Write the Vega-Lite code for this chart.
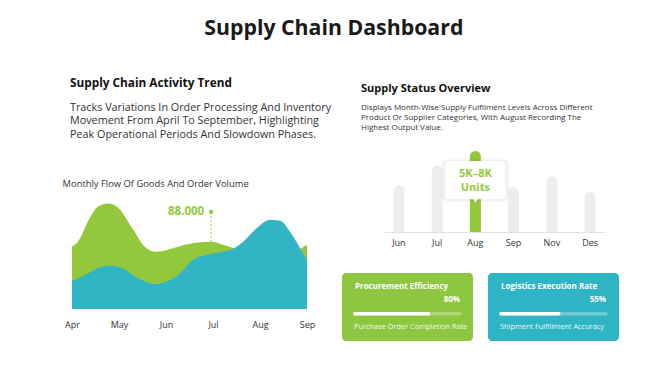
{
  "$schema": "https://vega.github.io/schema/vega-lite/v6.json",
  "background": "white",
  "autosize": {"type": "pad"},
  "padding": {"left": 62, "top": 17, "right": 5, "bottom": 5},
  "title": {"text": "Supply Chain Dashboard", "fontSize": 21.3, "fontWeight": "bold", "color": "#1a1a1a", "anchor": "middle", "offset": 39.5, "dx": -7},
  "spacing": 270,
  "bounds": "flush",
  "hconcat": [
    {
      "spacing": 47,
      "bounds": "flush",
      "vconcat": [
        {
          "width": 235,
          "height": 1,
          "data": {"values": [{"blank": ""}]},
          "mark": {"type": "text", "text": ""},
          "encoding": {},
          "title": {
            "text": "Supply Chain Activity Trend",
            "subtitle": ["Tracks Variations In Order Processing And Inventory", "Movement From April To September, Highlighting", "Peak Operational Periods And Slowdown Phases."],
            "anchor": "start", "dx": -2, "fontSize": 11.8, "fontWeight": "bold", "color": "#111111",
            "subtitleFontSize": 10.8, "subtitleColor": "#333333", "subtitleLineHeight": 13.3, "subtitlePadding": 12, "offset": 6
          }
        },
        {
          "width": 235,
          "height": 110,
          "title": {"text": "Monthly Flow Of Goods And Order Volume", "anchor": "start", "dx": -2, "fontSize": 9.4, "fontWeight": "normal", "color": "#333333", "offset": 10},
          "data": {"values": [
            {"series": "Goods", "m": 0, "v": 81.8},
            {"series": "Goods", "m": 0.13, "v": 88.4},
            {"series": "Goods", "m": 0.38, "v": 119.5},
            {"series": "Goods", "m": 0.55, "v": 134},
            {"series": "Goods", "m": 0.77, "v": 138},
            {"series": "Goods", "m": 0.98, "v": 132.6},
            {"series": "Goods", "m": 1.28, "v": 106},
            {"series": "Goods", "m": 1.55, "v": 81.4},
            {"series": "Goods", "m": 1.77, "v": 74.8},
            {"series": "Goods", "m": 2.04, "v": 77.5},
            {"series": "Goods", "m": 2.4, "v": 84},
            {"series": "Goods", "m": 2.96, "v": 88},
            {"series": "Goods", "m": 3.21, "v": 84},
            {"series": "Goods", "m": 3.43, "v": 80},
            {"series": "Goods", "m": 3.79, "v": 72},
            {"series": "Goods", "m": 4.21, "v": 70},
            {"series": "Goods", "m": 4.64, "v": 73.5},
            {"series": "Goods", "m": 4.89, "v": 80},
            {"series": "Goods", "m": 5, "v": 84},
            {"series": "Orders", "m": 0, "v": 36.8},
            {"series": "Orders", "m": 0.28, "v": 44.6},
            {"series": "Orders", "m": 0.55, "v": 53.8},
            {"series": "Orders", "m": 0.81, "v": 56.5},
            {"series": "Orders", "m": 1.06, "v": 53.8},
            {"series": "Orders", "m": 1.4, "v": 40.7},
            {"series": "Orders", "m": 1.77, "v": 32.8},
            {"series": "Orders", "m": 1.98, "v": 35.5},
            {"series": "Orders", "m": 2.26, "v": 44.6},
            {"series": "Orders", "m": 2.57, "v": 64.3},
            {"series": "Orders", "m": 2.87, "v": 70.9},
            {"series": "Orders", "m": 3.21, "v": 74.8},
            {"series": "Orders", "m": 3.43, "v": 78.8},
            {"series": "Orders", "m": 3.64, "v": 88},
            {"series": "Orders", "m": 3.94, "v": 106.4},
            {"series": "Orders", "m": 4.21, "v": 116.9},
            {"series": "Orders", "m": 4.43, "v": 115.6},
            {"series": "Orders", "m": 4.64, "v": 101},
            {"series": "Orders", "m": 4.85, "v": 80},
            {"series": "Orders", "m": 5, "v": 64.3}
          ]},
          "encoding": {
            "x": {"field": "m", "type": "quantitative",
                  "scale": {"domain": [0, 5], "nice": false, "zero": false},
                  "axis": {"values": [0, 1, 2, 3, 4, 5], "labelExpr": "['Apr','May','Jun','Jul','Aug','Sep'][datum.value]", "domain": false, "ticks": false, "grid": false, "labelPadding": 11, "labelFontSize": 9, "labelColor": "#333333", "title": null, "labelFlush": false}},
            "y": {"field": "v", "type": "quantitative", "scale": {"domain": [0, 144], "nice": false}, "axis": null}
          },
          "layer": [
            {"transform": [{"filter": "datum.series === 'Goods'"}], "mark": {"type": "area", "interpolate": "monotone", "color": "#93C83D", "opacity": 1}},
            {"transform": [{"filter": "datum.series === 'Orders'"}], "mark": {"type": "area", "interpolate": "monotone", "color": "#31B4C4", "opacity": 1}},
            {
              "data": {"values": [{"m": 2.96, "v": 88, "top": 127, "label": "88.000"}]},
              "layer": [
                {"mark": {"type": "rule", "color": "#93C83D", "strokeDash": [2, 2], "strokeWidth": 1}, "encoding": {"y2": {"field": "top"}}},
                {"mark": {"type": "point", "filled": true, "color": "#93C83D", "size": 18, "opacity": 1}, "encoding": {"y": {"field": "top", "type": "quantitative", "axis": null}}},
                {"mark": {"type": "text", "align": "right", "dx": -7, "fontSize": 11.5, "fontWeight": "bold", "color": "#93C83D"}, "encoding": {"y": {"field": "top", "type": "quantitative", "axis": null}, "text": {"field": "label"}}}
              ]
            }
          ]
        }
      ]
    },
    {
      "spacing": 122,
      "bounds": "flush",
      "vconcat": [
        {
          "spacing": 0,
          "bounds": "flush",
          "hconcat": [
            {"width": 42, "height": 81, "data": {"values": [{"gap": ""}]}, "mark": {"type": "text", "text": ""}, "encoding": {}},
            {
              "width": 221,
              "height": 81,
              "title": {
                "text": "Supply Status Overview",
                "subtitle": ["Displays Month-Wise Supply Fulfilment Levels Across Different", "Product Or Supplier Categories, With August Recording The", "Highest Output Value."],
                "anchor": "start", "dx": -23, "fontSize": 11, "fontWeight": "bold", "color": "#111111",
                "subtitleFontSize": 8, "subtitleColor": "#333333", "subtitleLineHeight": 10, "subtitlePadding": 10.3, "offset": 18.7
              },
              "data": {"values": [
                {"month": "Jun", "units": 6200},
                {"month": "Jul", "units": 8400},
                {"month": "Aug", "units": 10000},
                {"month": "Sep", "units": 6000},
                {"month": "Nov", "units": 7200},
                {"month": "Des", "units": 5450}
              ]},
              "encoding": {
                "x": {"field": "month", "type": "nominal", "sort": ["Jun", "Jul", "Aug", "Sep", "Nov", "Des"],
                      "scale": {"type": "band", "paddingInner": 0.5, "paddingOuter": 0.14},
                      "axis": {"title": null, "labelAngle": 0, "ticks": false, "domainColor": "#E3E3E3", "labelPadding": 6, "labelFontSize": 9, "labelColor": "#333333", "grid": false}},
                "y": {"field": "units", "type": "quantitative",
                      "scale": {"domain": [1000, 10000], "nice": false, "zero": false},
                      "axis": {"title": null, "values": [1000, 5000, 10000], "labelExpr": "datum.value / 1000 + 'k'", "ticks": false, "domain": false, "grid": false, "labelPadding": 11, "labelFontSize": 9, "labelColor": "#333333"}}
              },
              "layer": [
                {"mark": {"type": "bar", "width": 11, "cornerRadiusTopLeft": 5.5, "cornerRadiusTopRight": 5.5},
                 "encoding": {"y2": {"datum": 1000},
                   "color": {"field": "month", "type": "nominal", "legend": null,
                   "scale": {"domain": ["Jun", "Jul", "Aug", "Sep", "Nov", "Des"], "range": ["#EDEDED", "#EDEDED", "#93C83D", "#EDEDED", "#EDEDED", "#EDEDED"]}}}},
                {"transform": [{"filter": "datum.month === 'Aug'"}],
                 "mark": {"type": "bar", "width": 68, "cornerRadius": 5, "color": "#000000", "opacity": 0.03},
                 "encoding": {"y": {"datum": 9150, "type": "quantitative", "axis": null}, "y2": {"datum": 4350}}},
                {"transform": [{"filter": "datum.month === 'Aug'"}],
                 "mark": {"type": "bar", "width": 64, "cornerRadius": 4, "color": "#000000", "opacity": 0.03},
                 "encoding": {"y": {"datum": 9000, "type": "quantitative", "axis": null}, "y2": {"datum": 4500}}},
                {"transform": [{"filter": "datum.month === 'Aug'"}],
                 "mark": {"type": "bar", "width": 60, "cornerRadius": 3, "color": "#FFFFFF", "opacity": 1},
                 "encoding": {"y": {"datum": 8900, "type": "quantitative", "axis": null}, "y2": {"datum": 4650}}},
                {"transform": [{"filter": "datum.month === 'Aug'"}],
                 "mark": {"type": "point", "shape": "triangle-down", "filled": true, "size": 40, "color": "#FFFFFF", "opacity": 1},
                 "encoding": {"y": {"datum": 4550, "type": "quantitative", "axis": null}}},
                {"transform": [{"filter": "datum.month === 'Aug'"}],
                 "mark": {"type": "text", "text": "5K\u20138K", "fontSize": 11, "fontWeight": "bold", "color": "#93C83D"},
                 "encoding": {"y": {"datum": 7440, "type": "quantitative", "axis": null}}},
                {"transform": [{"filter": "datum.month === 'Aug'"}],
                 "mark": {"type": "text", "text": "Units", "fontSize": 11, "fontWeight": "bold", "color": "#93C83D"},
                 "encoding": {"y": {"datum": 5880, "type": "quantitative", "axis": null}}}
              ]
            }
          ]
        },
        {
          "spacing": 15,
          "bounds": "flush",
          "hconcat": [
            {
              "width": 131, "height": 68,
              "data": {"values": [{"name": "Procurement Efficiency", "rate": "80%", "progress": 70, "note": "Purchase Order Completion Rate"}]},
              "layer": [
                {"mark": {"type": "rect", "cornerRadius": 4, "color": "#8DC63F", "opacity": 1},
                 "encoding": {"x": {"datum": -12.38, "type": "quantitative", "axis": null}, "x2": {"datum": 112.38}}},
                {"mark": {"type": "rule", "strokeWidth": 3.5, "strokeCap": "round", "color": "#FFFFFF", "opacity": 0.3},
                 "encoding": {"x": {"datum": 0, "type": "quantitative", "axis": null}, "x2": {"datum": 100}, "y": {"datum": "bar", "type": "nominal", "axis": null}}},
                {"mark": {"type": "rule", "strokeWidth": 3.5, "strokeCap": "round", "color": "#FFFFFF", "opacity": 1},
                 "encoding": {"x": {"field": "progress", "type": "quantitative", "scale": {"domain": [-12.38, 112.38], "nice": false, "zero": false}, "axis": null}, "x2": {"datum": 0}, "y": {"datum": "bar", "type": "nominal", "axis": null}}},
                {"transform": [{"fold": ["name"], "as": ["item", "label"]}],
                 "mark": {"type": "text", "align": "left", "fontSize": 8, "fontWeight": "bold", "color": "#FFFFFF"},
                 "encoding": {"x": {"datum": 0, "type": "quantitative", "axis": null},
                              "y": {"field": "item", "type": "nominal", "scale": {"type": "point", "domain": ["name", "rate", "bar", "note"], "padding": 1.03}, "axis": null},
                              "text": {"field": "label"}}},
                {"transform": [{"fold": ["rate"], "as": ["item", "label"]}],
                 "mark": {"type": "text", "align": "right", "fontSize": 8, "fontWeight": "bold", "color": "#FFFFFF"},
                 "encoding": {"x": {"datum": 100, "type": "quantitative", "axis": null},
                              "y": {"field": "item", "type": "nominal", "scale": {"type": "point", "domain": ["name", "rate", "bar", "note"], "padding": 1.03}, "axis": null},
                              "text": {"field": "label"}}},
                {"transform": [{"fold": ["note"], "as": ["item", "label"]}],
                 "mark": {"type": "text", "align": "left", "fontSize": 7.4, "color": "#FFFFFF", "opacity": 0.92},
                 "encoding": {"x": {"datum": -1, "type": "quantitative", "axis": null},
                              "y": {"field": "item", "type": "nominal", "scale": {"type": "point", "domain": ["name", "rate", "bar", "note"], "padding": 1.03}, "axis": null},
                              "text": {"field": "label"}}}
              ]
            },
            {
              "width": 131, "height": 68,
              "data": {"values": [{"name": "Logistics Execution Rate", "rate": "55%", "progress": 55, "note": "Shipment Fulfillment Accuracy"}]},
              "layer": [
                {"mark": {"type": "rect", "cornerRadius": 4, "color": "#2FB4C5", "opacity": 1},
                 "encoding": {"x": {"datum": -12.38, "type": "quantitative", "axis": null}, "x2": {"datum": 112.38}}},
                {"mark": {"type": "rule", "strokeWidth": 3.5, "strokeCap": "round", "color": "#FFFFFF", "opacity": 0.3},
                 "encoding": {"x": {"datum": 0, "type": "quantitative", "axis": null}, "x2": {"datum": 100}, "y": {"datum": "bar", "type": "nominal", "axis": null}}},
                {"mark": {"type": "rule", "strokeWidth": 3.5, "strokeCap": "round", "color": "#FFFFFF", "opacity": 1},
                 "encoding": {"x": {"field": "progress", "type": "quantitative", "scale": {"domain": [-12.38, 112.38], "nice": false, "zero": false}, "axis": null}, "x2": {"datum": 0}, "y": {"datum": "bar", "type": "nominal", "axis": null}}},
                {"transform": [{"fold": ["name"], "as": ["item", "label"]}],
                 "mark": {"type": "text", "align": "left", "fontSize": 8, "fontWeight": "bold", "color": "#FFFFFF"},
                 "encoding": {"x": {"datum": 0, "type": "quantitative", "axis": null},
                              "y": {"field": "item", "type": "nominal", "scale": {"type": "point", "domain": ["name", "rate", "bar", "note"], "padding": 1.03}, "axis": null},
                              "text": {"field": "label"}}},
                {"transform": [{"fold": ["rate"], "as": ["item", "label"]}],
                 "mark": {"type": "text", "align": "right", "fontSize": 8, "fontWeight": "bold", "color": "#FFFFFF"},
                 "encoding": {"x": {"datum": 100, "type": "quantitative", "axis": null},
                              "y": {"field": "item", "type": "nominal", "scale": {"type": "point", "domain": ["name", "rate", "bar", "note"], "padding": 1.03}, "axis": null},
                              "text": {"field": "label"}}},
                {"transform": [{"fold": ["note"], "as": ["item", "label"]}],
                 "mark": {"type": "text", "align": "left", "fontSize": 7.4, "color": "#FFFFFF", "opacity": 0.92},
                 "encoding": {"x": {"datum": -1, "type": "quantitative", "axis": null},
                              "y": {"field": "item", "type": "nominal", "scale": {"type": "point", "domain": ["name", "rate", "bar", "note"], "padding": 1.03}, "axis": null},
                              "text": {"field": "label"}}}
              ]
            }
          ]
        }
      ]
    }
  ],
  "config": {
    "font": "Open Sans",
    "view": {"stroke": null},
    "title": {"font": "Open Sans", "subtitleFont": "Open Sans"},
    "axis": {"labelFont": "Open Sans"}
  }
}
